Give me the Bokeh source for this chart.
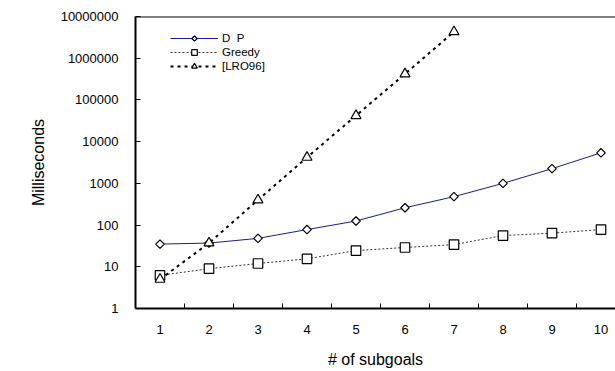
from bokeh.plotting import figure
from bokeh.models import Range1d, FixedTicker, Span, Legend, LegendItem, CustomJS
from bokeh.embed import file_html
from bokeh.resources import INLINE

subgoals = [1, 2, 3, 4, 5, 6, 7, 8, 9, 10]
dp_ms = [35, 37, 48, 78, 125, 260, 480, 1000, 2250, 5400]
greedy_ms = [6.2, 9, 12, 15.5, 24.5, 29, 34, 56, 64, 78]
lro_subgoals = [1, 2, 3, 4, 5, 6, 7]
lro_ms = [5, 37, 400, 4200, 42000, 420000, 4300000]
y_ticks = [1, 10, 100, 1000, 10000, 100000, 1000000, 10000000]

FONT = "Liberation Sans"

p = figure(width=615, height=371, y_axis_type="log", output_backend="svg",
           toolbar_location=None,
           x_range=Range1d(0.5, 0.5 + 480 / 49), y_range=Range1d(1, 1e7),
           min_border_left=135, min_border_top=16, min_border_right=0,
           min_border_bottom=63)
p.outline_line_color = None
p.xgrid.visible = False
p.ygrid.visible = False

# axes
p.xaxis.ticker = FixedTicker(ticks=subgoals, minor_ticks=[s + 0.5 for s in subgoals[:-1]])
p.xaxis.major_tick_line_color = None
p.xaxis.minor_tick_in = 5
p.xaxis.minor_tick_out = 0
p.xaxis.minor_tick_line_color = "black"
p.yaxis.ticker = FixedTicker(ticks=y_ticks, minor_ticks=[])
p.yaxis.major_label_overrides = {t: str(t) for t in y_ticks}
p.yaxis.major_tick_in = 5
p.yaxis.major_tick_out = 0
p.yaxis.minor_tick_line_color = None
for ax in (p.xaxis[0], p.yaxis[0]):
    ax.axis_line_width = 2
    ax.axis_line_color = "black"
    ax.major_label_text_font = FONT
    ax.major_label_text_font_size = "13px"
    ax.major_label_text_color = "black"
    ax.axis_label_text_font = FONT
    ax.axis_label_text_font_size = "16px"
    ax.axis_label_text_font_style = "normal"
    ax.axis_label_text_color = "black"
p.yaxis.major_label_standoff = 17
p.xaxis.major_label_standoff = 10
p.xaxis.axis_label = "# of subgoals"
p.yaxis.axis_label = "Milliseconds"
p.xaxis.axis_label_standoff = 14
p.yaxis.axis_label_standoff = 11

p.add_layout(Span(location=1e7, dimension="width", line_color="black", line_width=2))

rhomb = CustomJS(code="""
export default (args, obj, data) => {
  const d = (data && data.ctx) ? data : obj
  const {ctx, i, r, visuals} = d
  const a = r * 0.95
  ctx.beginPath()
  ctx.moveTo(0, -a)
  ctx.lineTo(a, 0)
  ctx.lineTo(0, a)
  ctx.lineTo(-a, 0)
  ctx.closePath()
  visuals.fill.apply(ctx, i)
  visuals.line.apply(ctx, i)
}
""")

# series
l1 = p.line(subgoals, dp_ms, line_color="#1c1c8c", line_width=1)
m1 = p.scatter(subgoals, dp_ms, marker="@rhomb", defs={"@rhomb": rhomb}, size=9,
               fill_color="white", line_color="black", line_width=1.2)
l2 = p.line(subgoals, greedy_ms, line_color="#333333", line_width=1, line_dash="2 2")
m2 = p.scatter(subgoals, greedy_ms, marker="square", size=9.5,
               fill_color="white", line_color="black", line_width=1.2)
l3 = p.line(lro_subgoals, lro_ms, line_color="black", line_width=2, line_dash="3 4")
m3 = p.scatter(lro_subgoals, lro_ms, marker="triangle", size=10,
               fill_color="white", line_color="black", line_width=1.2)

legend = Legend(items=[
    LegendItem(label="D\u00a0\u00a0P", renderers=[l1, m1]),
    LegendItem(label="Greedy", renderers=[l2, m2]),
    LegendItem(label="[LRO96]", renderers=[l3, m3]),
], location=(35, 235))
legend.glyph_width = 48
legend.glyph_height = 14
legend.label_height = 14
legend.label_standoff = 4
legend.spacing = 0
legend.padding = 0
legend.margin = 0
legend.border_line_color = None
legend.background_fill_alpha = 0
legend.label_text_font = FONT
legend.label_text_font_size = "11.5px"
legend.label_text_color = "black"
p.add_layout(legend, "center")

open("out.html", "w").write(file_html(p, INLINE))
